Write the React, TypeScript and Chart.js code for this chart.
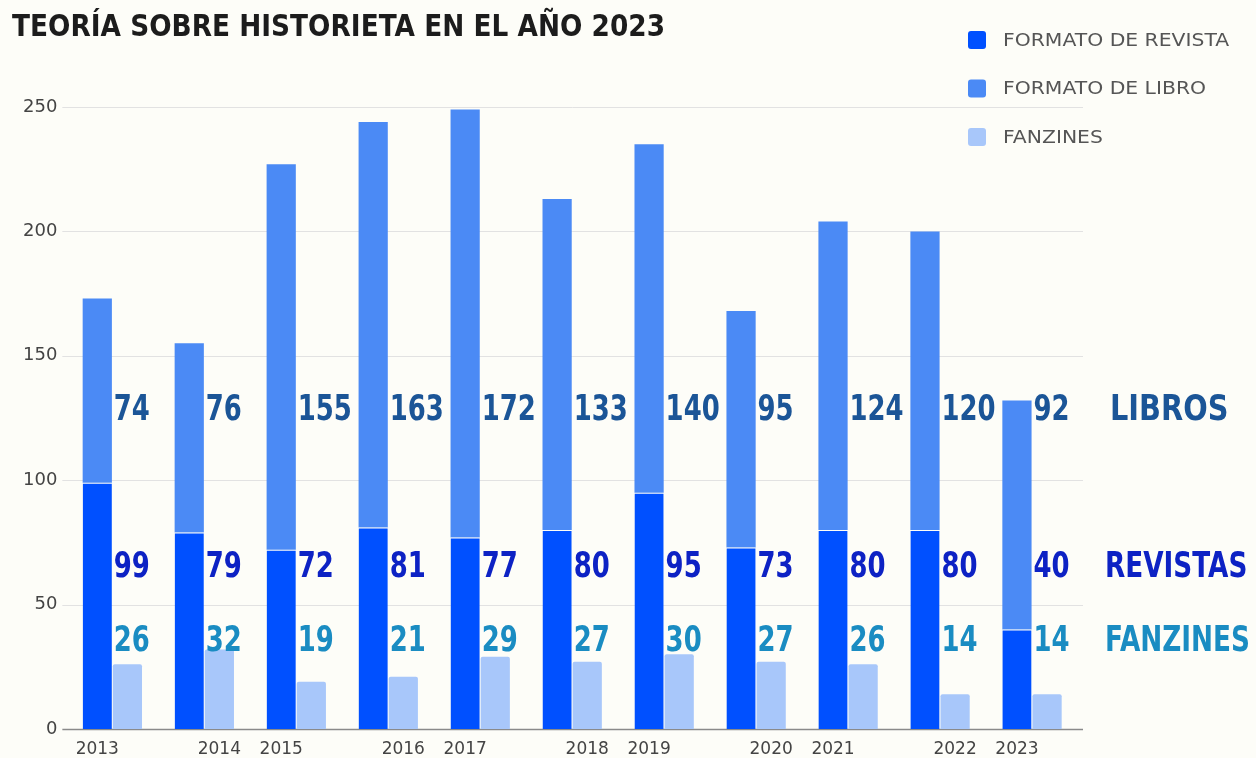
import React, { useEffect, useRef } from "react";
import { Chart, registerables } from "chart.js";

Chart.register(...registerables);

const years = ["2013", "2014", "2015", "2016", "2017", "2018", "2019", "2020", "2021", "2022", "2023"];
const revista = [99, 79, 72, 81, 77, 80, 95, 73, 80, 80, 40];
const libro = [74, 76, 155, 163, 172, 133, 140, 95, 124, 120, 92];
const fanzines = [26, 32, 19, 21, 29, 27, 30, 27, 26, 14, 14];
const seriesNames = ["FORMATO DE REVISTA", "FORMATO DE LIBRO", "FANZINES"];
const sideLabels = ["LIBROS", "REVISTAS", "FANZINES"];
const yTicks = [0, 50, 100, 150, 200, 250];
// value rows (in data units) where the annotation numbers sit
const labelRows = [128, 65, 35];

const BG = "#fdfdf8";
const COL_REV = "#0050ff";
const COL_LIB = "#4b8af5";
const COL_FAN = "#a8c7fa";
const TXT_LIB = "#1b5597";
const TXT_REV = "#0d22c4";
const TXT_FAN = "#1a8cc2";
const COMIC = "'DejaVu Sans', sans-serif";
const UI = "'DejaVu Sans', sans-serif";

function drawScaled(ctx: any, text: string, x: number, y: number, sx: number) {
  ctx.save();
  ctx.translate(x, y);
  ctx.scale(sx, 1);
  ctx.fillText(text, 0, 0);
  ctx.restore();
}

const gridPlugin = {
  id: "customGrid",
  beforeDatasetsDraw(chart: any) {
    const ctx = chart.ctx;
    const area = chart.chartArea;
    const y = chart.scales.y;
    ctx.save();
    yTicks.forEach((v) => {
      const py = Math.round(y.getPixelForValue(v)) + 0.5;
      ctx.beginPath();
      if (v === 0) {
        ctx.strokeStyle = "#8a8a8a";
        ctx.lineWidth = 1.5;
      } else {
        ctx.strokeStyle = "#e2e2e2";
        ctx.lineWidth = 1;
      }
      ctx.moveTo(area.left - 4, py);
      ctx.lineTo(area.right + 5, py);
      ctx.stroke();
    });
    ctx.restore();
  },
};

const overlay = {
  id: "overlay",
  afterDraw(chart: any) {
    const ctx = chart.ctx;
    const area = chart.chartArea;
    const y = chart.scales.y;
    const m0 = chart.getDatasetMeta(0);
    const m2 = chart.getDatasetMeta(2);
    ctx.save();

    // title
    ctx.fillStyle = "#1c1c1c";
    ctx.font = `bold 31px ${COMIC}`;
    ctx.textBaseline = "middle";
    ctx.textAlign = "left";
    const title = "TEORÍA SOBRE HISTORIETA EN EL AÑO 2023";
    const tw = ctx.measureText(title).width;
    drawScaled(ctx, title, 12, 28, 653 / tw);

    // legend
    const legCols = [COL_REV, COL_LIB, COL_FAN];
    ctx.font = `18px ${UI}`;
    for (let i = 0; i < 3; i++) {
      const cy = 40 + i * 48.5;
      ctx.fillStyle = legCols[i];
      ctx.beginPath();
      (ctx as any).roundRect(968, cy - 9, 18, 18, 3);
      ctx.fill();
      ctx.fillStyle = "#555555";
      drawScaled(ctx, seriesNames[i], 1003, cy + 1, 1.13);
    }

    // x labels
    ctx.font = `17px ${UI}`;
    ctx.fillStyle = "#444444";
    ctx.textAlign = "center";
    for (let i = 0; i < years.length; i++) {
      const bx = i % 2 === 0 ? m0.data[i].x : m2.data[i].x;
      ctx.fillText(years[i], bx, area.bottom + 21);
    }

    // value labels
    const rows = [
      { vals: libro, col: TXT_LIB },
      { vals: revista, col: TXT_REV },
      { vals: fanzines, col: TXT_FAN },
    ];
    ctx.font = `bold 36px ${COMIC}`;
    ctx.textAlign = "left";
    rows.forEach((r, k) => {
      const py = y.getPixelForValue(labelRows[k]);
      ctx.fillStyle = r.col;
      for (let i = 0; i < years.length; i++) {
        const bar = m2.data[i];
        drawScaled(ctx, String(r.vals[i]), bar.x - bar.width / 2 + 1, py, 0.72);
      }
      const sx = k === 0 ? 0.8 : 0.73;
      drawScaled(ctx, sideLabels[k], area.right + (k === 0 ? 32 : 27), py, sx);
    });

    ctx.restore();
  },
};

const bgPlugin = {
  id: "bg",
  beforeDraw(chart: any) {
    const ctx = chart.ctx;
    ctx.save();
    ctx.fillStyle = BG;
    ctx.fillRect(0, 0, chart.width, chart.height);
    ctx.restore();
  },
};

export default function App() {
  const ref = useRef<HTMLCanvasElement>(null);
  useEffect(() => {
    if (!ref.current) return;
    const chart = new Chart(ref.current, {
      type: "bar",
      data: {
        labels: years,
        datasets: [
          {
            label: seriesNames[0],
            data: revista,
            backgroundColor: COL_REV,
            borderColor: BG,
            borderWidth: { top: 1, left: 0, right: 0, bottom: 0 },
            borderSkipped: false,
            stack: "a",
          },
          {
            label: seriesNames[1],
            data: libro,
            backgroundColor: COL_LIB,
            borderWidth: 0,
            stack: "a",
          },
          {
            label: seriesNames[2],
            data: fanzines,
            backgroundColor: COL_FAN,
            borderWidth: 0,
            borderRadius: { topLeft: 2, topRight: 2, bottomLeft: 0, bottomRight: 0 },
            borderSkipped: false,
            stack: "b",
          },
        ] as any,
      },
      options: {
        animation: false,
        responsive: false,
        categoryPercentage: 0.655,
        barPercentage: 0.97,
        layout: { padding: { left: 14, right: 178, top: 107, bottom: 21 } },
        plugins: {
          legend: { display: false },
          tooltip: { enabled: false },
          title: { display: false },
        },
        scales: {
          x: {
            stacked: true,
            grid: { display: false },
            ticks: { display: false },
            border: { display: false },
          },
          y: {
            stacked: true,
            min: 0,
            max: 250,
            afterBuildTicks: (axis: any) => {
              axis.ticks = yTicks.map((v) => ({ value: v }));
            },
            ticks: {
              padding: 9,
              color: "#444444",
              font: { family: UI, size: 18 },
            },
            grid: { display: false, drawTicks: false },
            border: { display: false },
          },
        },
      } as any,
      plugins: [bgPlugin, gridPlugin, overlay],
    });
    return () => chart.destroy();
  }, []);
  return (
    <div style={{ position: "fixed", left: 0, top: 0, width: 1256, height: 758, background: BG }}>
      <canvas ref={ref} width={1256} height={758} style={{ display: "block" }} />
    </div>
  );
}
